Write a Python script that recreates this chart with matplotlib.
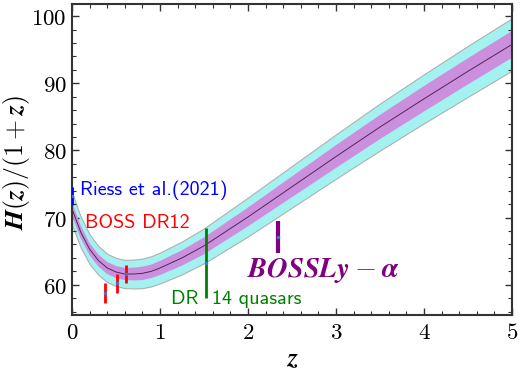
import numpy as np
import matplotlib
matplotlib.use("Agg")
import matplotlib.pyplot as plt
from matplotlib.ticker import MultipleLocator, FuncFormatter

plt.rcParams['mathtext.fontset'] = 'cm'

# model curve H(z)/(1+z)
z_model = [0.0, 0.1, 0.2, 0.3, 0.4, 0.5, 0.6, 0.7, 0.8, 0.9, 1.0, 1.25, 1.5,
           2.0, 2.5, 3.0, 3.5, 4.0, 4.5, 5.0]
h_center = [71.3, 67.8, 65.3, 63.6, 62.5, 61.9, 61.6, 61.6, 61.7, 62.0, 62.5,
            64.0, 65.8, 70.1, 74.6, 79.1, 83.5, 87.7, 91.8, 95.8]
sig1 = [1.0, 0.95, 0.9, 0.9, 0.9, 0.9, 0.9, 0.95, 1.0, 1.0, 1.05, 1.15, 1.25,
        1.4, 1.55, 1.7, 1.8, 1.9, 1.95, 2.0]
sig2 = [2.4, 2.3, 2.2, 2.15, 2.1, 2.1, 2.1, 2.15, 2.2, 2.25, 2.3, 2.45, 2.6,
        2.9, 3.1, 3.3, 3.5, 3.65, 3.8, 3.9]

# observational points
riess_z, riess_h, riess_e = [0.0], [73.2], [1.3]
boss_z = [0.38, 0.51, 0.61]
boss_h = [58.8, 60.2, 61.6]
boss_e = [1.5, 1.4, 1.4]
qso_z, qso_h, qso_e = [1.52], [63.3], [5.2]
lya_z, lya_h, lya_e = [2.34], [67.15], [2.4]

zc = np.array(z_model)
hc = np.array(h_center)
s1 = np.array(sig1)
s2 = np.array(sig2)

fig = plt.figure(figsize=(5.22, 3.71), dpi=100)
ax = fig.add_axes([0.138, 0.151, 0.843, 0.838])

ax.fill_between(zc, hc - s2, hc + s2, facecolor='#a3f2f0', edgecolor='#b0b0b0', lw=0.8, zorder=1)
ax.fill_between(zc, hc - s1, hc + s1, facecolor='#cc8fdd', edgecolor='none', lw=0, zorder=2)
ax.plot(zc, hc, color='#4a2a55', lw=0.7, zorder=3)

def ebar(x, y, e, color, lw):
    ax.errorbar(x, y, yerr=e, fmt='o', ms=1.5, mfc='#3a7ac0', mec='#3a7ac0',
                ecolor=color, elinewidth=lw, capsize=0, zorder=5)

ebar(riess_z, riess_h, riess_e, 'blue', 2)
ebar(boss_z, boss_h, boss_e, 'red', 2)
ebar(qso_z, qso_h, qso_e, 'green', 2)
ebar(lya_z, lya_h, lya_e, 'purple', 3)

sans = dict(family='cmss10', fontsize=14.5, va='center', ha='left')
ax.text(0.09, 74.1, 'Riess et al.(2021)', color='blue', **sans)
ax.text(0.15, 69.2, 'BOSS DR12', color='red', **sans)
ax.text(1.12, 57.9, 'DR  14 quasars', color='green', **sans)
ax.text(1.99, 62.1, r'$\boldsymbol{BOSSLy-\alpha}$', color='purple', fontsize=20.5, va='center', ha='left')

ax.set_xlim(0, 5)
ax.set_ylim(55.5, 101.8)
ax.xaxis.set_major_locator(MultipleLocator(1))
ax.xaxis.set_minor_locator(MultipleLocator(0.2))
ax.yaxis.set_major_locator(MultipleLocator(10))
ax.yaxis.set_minor_locator(MultipleLocator(2))
fmt = FuncFormatter(lambda v, p: r'$\mathbf{%d}$' % round(v))
ax.xaxis.set_major_formatter(fmt)
ax.yaxis.set_major_formatter(fmt)
ax.tick_params(which='both', direction='in', top=True, right=True, labelsize=16.5, colors='#333333', labelcolor='black')
ax.tick_params(which='major', length=5, width=1.0, pad=4)
ax.tick_params(which='minor', length=3, width=0.8)
for sp in ax.spines.values():
    sp.set_linewidth(1.5)
    sp.set_color('#333333')

ax.set_xlabel(r'$\boldsymbol{z}$', fontsize=19, labelpad=2)
ax.set_ylabel(r'$\boldsymbol{H(z)/(1+z)}$', fontsize=18.5)
ax.yaxis.set_label_coords(-0.092, 0.49)

fig.savefig('out.png', dpi=100)
